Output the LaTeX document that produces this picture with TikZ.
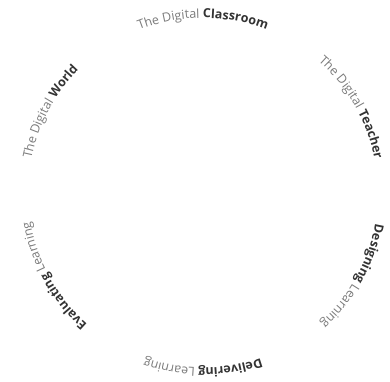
\documentclass[tikz,border=0pt]{standalone}
\usepackage{fontspec}
\setmainfont{Open Sans}
\usetikzlibrary{decorations.text}
\definecolor{lightgr}{HTML}{7A7A7A}
\definecolor{darkgr}{HTML}{333333}
\tikzset{
  arclabel/.style={decorate,decoration={text along path,text align=center,text={#1}}}
}
\newcommand\fs{\fontsize{12.5}{15}\selectfont}
\begin{document}
\begin{tikzpicture}[x=1pt,y=1pt]
\useasboundingbox (-203,-188) rectangle (187,193);
\def\R{175}
\path[arclabel={|\fs\color{lightgr}|The Digital |\fs\bfseries\color{darkgr}|Classroom}]
  (140:\R) arc[start angle=140,end angle=40,radius=\R];
\path[arclabel={|\fs\color{lightgr}|The Digital |\fs\bfseries\color{darkgr}|Teacher}]
  (80:\R) arc[start angle=80,end angle=-20,radius=\R];
\path[arclabel={|\fs\bfseries\color{darkgr}|Designing |\fs\color{lightgr}|Learning}]
  (21:\R) arc[start angle=21,end angle=-79,radius=\R];
\path[arclabel={|\fs\bfseries\color{darkgr}|Delivering |\fs\color{lightgr}|Learning}]
  (-40:\R) arc[start angle=-40,end angle=-140,radius=\R];
\path[arclabel={|\fs\bfseries\color{darkgr}|Evaluating |\fs\color{lightgr}|Learning}]
  (-101:\R) arc[start angle=-101,end angle=-201,radius=\R];
\path[arclabel={|\fs\color{lightgr}|The Digital |\fs\bfseries\color{darkgr}|World}]
  (-158:\R) arc[start angle=-158,end angle=-258,radius=\R];
\end{tikzpicture}
\end{document}
